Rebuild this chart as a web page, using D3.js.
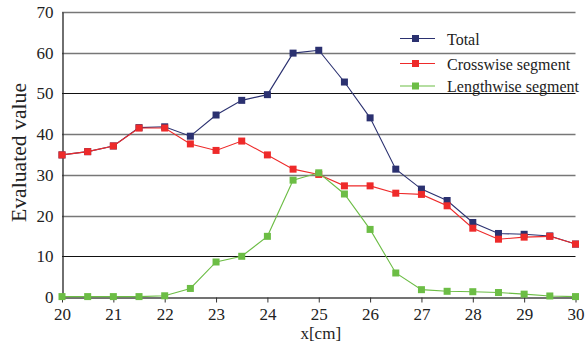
<!DOCTYPE html>
<html>
<head>
<meta charset="utf-8">
<script src="https://cdn.jsdelivr.net/npm/d3@7"></script>
<style>
  html, body { margin: 0; padding: 0; background: #fff; }
  svg { display: block; }
</style>
</head>
<body>
<svg id="chart"></svg>
<script>
// data
const xValues = [20, 20.5, 21, 21.5, 22, 22.5, 23, 23.5, 24, 24.5, 25, 25.5, 26, 26.5, 27, 27.5, 28, 28.5, 29, 29.5, 30]
const total = [34.9, 35.7, 37.1, 41.6, 41.8, 39.5, 44.7, 48.3, 49.7, 59.9, 60.6, 52.8, 44.0, 31.4, 26.5, 23.7, 18.3, 15.6, 15.4, 15.0, 13.0]
const crosswise = [34.9, 35.7, 37.1, 41.5, 41.5, 37.6, 36.0, 38.3, 34.9, 31.4, 30.1, 27.3, 27.3, 25.5, 25.2, 22.4, 16.9, 14.2, 14.7, 14.9, 13.0]
const lengthwise = [0.1, 0.1, 0.1, 0.1, 0.3, 2.1, 8.6, 10.0, 14.9, 28.7, 30.5, 25.3, 16.6, 5.9, 1.8, 1.4, 1.3, 1.1, 0.7, 0.25, 0.1]
const seriesNames = ['Total', 'Crosswise segment', 'Lengthwise segment']
const xTicks = [20, 21, 22, 23, 24, 25, 26, 27, 28, 29, 30]
const yTicks = [0, 10, 20, 30, 40, 50, 60, 70]

const width = 585
const height = 352
const margin = { top: 12, right: 10, bottom: 55, left: 62 }

const colors = ['#2b3170', '#ee2a2a', '#6cbd45']
const series = [total, crosswise, lengthwise]
const serifFont = 'Liberation Serif'

const svg = d3.select('#chart')
  .attr('width', width)
  .attr('height', height)

const x = d3.scaleLinear()
  .domain([20, 30])
  .range([margin.left, width - margin.right + 0.5])

const y = d3.scaleLinear()
  .domain([0, 70])
  .range([height - margin.bottom, margin.top])

// horizontal grid lines
svg.append('g')
  .selectAll('line')
  .data(yTicks.filter(d => d > 0))
  .join('line')
  .attr('x1', x(20))
  .attr('x2', x(30))
  .attr('y1', d => Math.round(y(d)) + 0.5)
  .attr('y2', d => Math.round(y(d)) + 0.5)
  .attr('stroke', d => (d === 10 || d === 50) ? '#111' : '#777')
  .attr('stroke-width', d => (d === 10 || d === 50) ? 1 : 1.6)

// y axis
const yAxis = svg.append('g')
  .attr('transform', `translate(${margin.left + 0.5},0)`)
  .call(d3.axisLeft(y).tickValues(yTicks).tickSize(0).tickPadding(9))
yAxis.attr('font-family', serifFont)
yAxis.select('.domain').attr('stroke', '#222').attr('stroke-width', 1.3)
yAxis.selectAll('text')
  .attr('font-family', serifFont)
  .attr('font-size', 17)
  .attr('fill', '#222')

// x axis
const xAxis = svg.append('g')
  .attr('transform', `translate(0,${Math.round(y(0)) + 0.5})`)
  .call(d3.axisBottom(x).tickValues(xTicks).tickSize(5).tickSizeOuter(0).tickPadding(5).tickFormat(d3.format('d')))
xAxis.attr('font-family', serifFont)
xAxis.select('.domain').attr('stroke', '#444').attr('stroke-width', 1.6)
xAxis.selectAll('line').attr('stroke', '#333')
xAxis.selectAll('text')
  .attr('font-family', serifFont)
  .attr('font-size', 17)
  .attr('fill', '#222')

// axis titles
svg.append('text')
  .attr('transform', `translate(${(x(20) + x(30)) / 2 + 2},${338.5})`)
  .attr('text-anchor', 'middle')
  .attr('font-family', serifFont)
  .attr('font-size', 17)
  .attr('fill', '#222')
  .text('x[cm]')

svg.append('text')
  .attr('transform', `translate(26,${(y(0) + y(70)) / 2 - 2}) rotate(-90)`)
  .attr('text-anchor', 'middle')
  .attr('font-family', serifFont)
  .attr('font-size', 21.7)
  .attr('fill', '#222')
  .text('Evaluated value')

// lines and markers
const line = d3.line()
  .x((_, i) => x(xValues[i]))
  .y(d => y(d))

series.forEach((values, k) => {
  const g = svg.append('g')
  g.append('path')
    .datum(values)
    .attr('fill', 'none')
    .attr('stroke', colors[k])
    .attr('stroke-width', 1.1)
    .attr('d', line)
  g.selectAll('rect')
    .data(values)
    .join('rect')
    .attr('x', (_, i) => x(xValues[i]) - 3.5)
    .attr('y', d => y(d) - 3.5)
    .attr('width', 7)
    .attr('height', 7)
    .attr('fill', colors[k])
})

// legend
const legend = svg.append('g')
  .attr('transform', 'translate(400,38)')

seriesNames.forEach((name, k) => {
  const row = legend.append('g').attr('transform', `translate(0,${[0, 25, 47.5][k]})`)
  row.append('line')
    .attr('x1', 0).attr('x2', 35)
    .attr('y1', 0.5).attr('y2', 0.5)
    .attr('stroke', colors[k])
    .attr('stroke-width', 1.1)
  row.append('rect')
    .attr('x', 12).attr('y', -3)
    .attr('width', 7).attr('height', 7)
    .attr('fill', colors[k])
  row.append('text')
    .attr('x', 47)
    .attr('y', 6.5)
    .attr('font-family', serifFont)
    .attr('font-size', 16)
    .attr('fill', '#222')
    .text(name)
})
</script>
</body>
</html>
